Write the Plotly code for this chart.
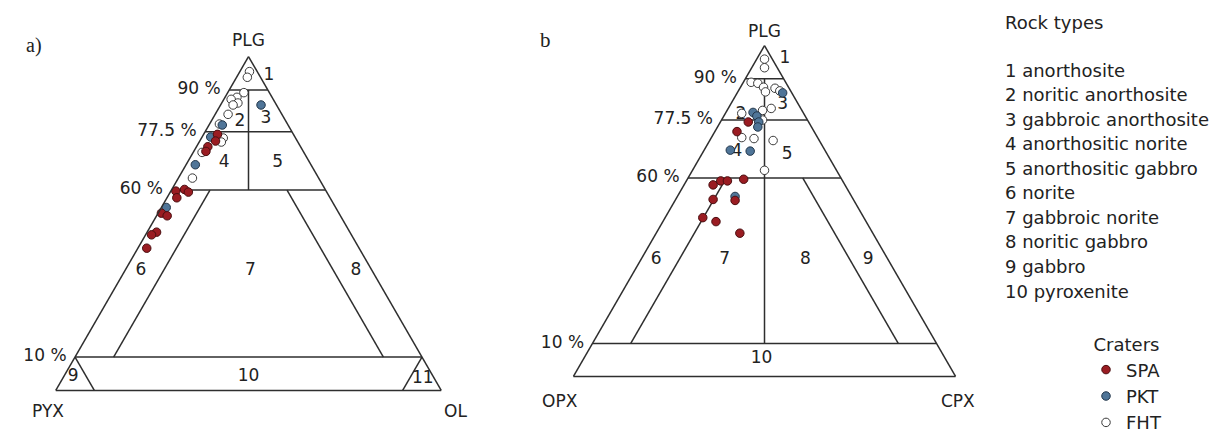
import plotly.graph_objects as go

# ---------------- data ----------------
# panel a : PLG - PYX - OL (percent)
spa_a_plg = [76.7, 74.7, 73.0, 71.6, 60.2, 59.7, 59.4, 57.7, 53.1, 52.3, 47.4, 46.6, 42.6]
spa_a_pyx = [19.7, 21.2, 24.05, 25.25, 36.5, 39.0, 35.9, 39.75, 46.05, 44.95, 50.15, 51.85, 55.1]
spa_a_ol = [3.6, 4.1, 2.95, 3.15, 3.3, 1.3, 4.7, 2.55, 0.85, 2.75, 2.45, 1.55, 2.3]

pkt_a_plg = [85.5, 79.5, 75.9, 67.6, 54.8]
pkt_a_pyx = [4.0, 17.05, 21.85, 30.0, 43.95]
pkt_a_ol = [10.5, 3.45, 2.25, 2.4, 1.25]

fht_a_plg = [95.5, 93.8, 89.2, 87.8, 87.2, 86.1, 85.5, 82.7, 79.8, 75.6, 74.4, 71.3, 63.6]
fht_a_pyx = [2.0, 3.4, 6.6, 9.1, 10.9, 9.7, 11.25, 13.95, 17.65, 18.75, 19.85, 26.4, 32.75]
fht_a_ol = [2.5, 2.8, 4.2, 3.1, 1.9, 4.2, 3.25, 3.35, 2.55, 5.65, 5.75, 2.3, 3.65]

# panel b : PLG - OPX - CPX (percent)
spa_b_plg = [76.9, 74.0, 57.9, 59.1, 59.1, 59.6, 53.5, 53.2, 48.0, 46.8, 43.3]
spa_b_opx = [15.8, 20.2, 34.5, 31.9, 30.15, 25.65, 36.7, 31.1, 42.15, 39.3, 34.8]
spa_b_cpx = [7.3, 5.8, 7.6, 9.0, 10.75, 14.75, 9.8, 15.7, 9.85, 13.9, 21.9]

pkt_b_plg = [85.7, 79.8, 78.7, 76.9, 75.4, 68.4, 68.1, 54.4]
pkt_b_opx = [2.4, 13.1, 12.65, 13.05, 14.05, 24.75, 19.7, 30.5]
pkt_b_cpx = [11.9, 7.1, 8.65, 10.05, 10.55, 6.85, 12.2, 15.1]

fht_b_plg = [95.9, 93.3, 88.9, 88.6, 87.4, 86.0, 87.1, 86.3, 79.5, 81.0, 80.4, 77.5, 72.2, 71.9, 71.3, 62.3]
fht_b_opx = [2.05, 3.35, 9.05, 7.45, 6.55, 6.75, 3.7, 2.85, 16.2, 7.75, 10.3, 11.75, 19.85, 16.8, 12.1, 18.85]
fht_b_cpx = [2.05, 3.35, 2.05, 3.95, 6.05, 7.25, 9.2, 10.85, 4.3, 11.25, 9.3, 10.75, 7.95, 11.3, 16.6, 18.85]

# classification boundaries
plg_levels = [90, 77.5, 60, 10]
plg_level_labels = ["90 %", "77.5 %", "60 %", "10 %"]
inner_cut = 10       # 10 % of the minor phase (inner lines)
corner_cut = 90      # small corner triangles of panel a

# region numbers (PLG, left, right)
reg_a_txt = ["2", "3", "4", "5", "6", "7", "8", "9", "10", "11"]
reg_a_plg = [80.4, 81.5, 68.2, 68.2, 35.8, 35.8, 35.8, 4.0, 4.0, 3.4]
reg_a_pyx = [12.05, 4.75, 22.2, 8.35, 60.0, 31.6, 4.2, 93.5, 48.0, 3.1]
reg_a_ol = [7.55, 13.75, 9.6, 23.45, 4.2, 32.6, 60.0, 2.5, 48.0, 93.5]

reg_b_txt = ["2", "3", "4", "5", "6", "7", "8", "9", "10"]
reg_b_plg = [79.2, 82.2, 67.8, 67.0, 35.4, 35.4, 35.4, 35.4, 5.3]
reg_b_opx = [16.6, 4.15, 23.3, 10.55, 60.65, 42.75, 21.6, 5.2, 48.1]
reg_b_cpx = [4.2, 13.65, 8.9, 22.45, 3.95, 21.85, 43.0, 59.4, 46.6]

# region 1 label sits just outside the right edge, next to the apex
reg1_plg = {"ternary": 94.3, "ternary2": 95.9}

rock_types = ["1 anorthosite", "2 noritic anorthosite", "3 gabbroic anorthosite",
              "4 anorthositic norite", "5 anorthositic gabbro", "6 norite",
              "7 gabbroic norite", "8 noritic gabbro", "9 gabbro", "10 pyroxenite"]

# ---------------- styles ----------------
FONT = "DejaVu Sans"
LINE = "#2e2e2e"
W, H = 1223, 441
styles = {
    "SPA": dict(color="#9a1c22", line=dict(color="#4a0e10", width=1)),
    "PKT": dict(color="#4f7598", line=dict(color="#22364a", width=1)),
    "FHT": dict(color="white", line=dict(color="#3a3a3a", width=1)),
}


def boundary(mid_to):
    a, b, c = [], [], []
    for lv in plg_levels:                       # horizontal lines
        a += [lv, lv, None]; b += [100 - lv, 0, None]; c += [0, 100 - lv, None]
    top, low = plg_levels[0], plg_levels[2]
    a += [top, mid_to, None]                    # central divider
    b += [(100 - top) / 2, (100 - mid_to) / 2, None]
    c += [(100 - top) / 2, (100 - mid_to) / 2, None]
    bot = plg_levels[3]
    a += [low, bot, None, low, bot, None]       # inner lines
    b += [100 - low - inner_cut, 100 - bot - inner_cut, None, inner_cut, inner_cut, None]
    c += [inner_cut, inner_cut, None, 100 - low - inner_cut, 100 - bot - inner_cut, None]
    return a, b, c


fig = go.Figure()
tfont = dict(family=FONT, size=17, color="#222")


def add_panel(sub, plg_pts, mid_to, corners, reg, gap1):
    a, b, c = boundary(mid_to)
    if corners:
        bot = plg_levels[3]
        a += [bot, 0, None, bot, 0, None]
        b += [corner_cut, corner_cut, None, 0, 100 - corner_cut, None]
        c += [0, 100 - corner_cut, None, corner_cut, corner_cut, None]
    fig.add_trace(go.Scatterternary(a=a, b=b, c=c, mode="lines", subplot=sub,
                                    line=dict(color=LINE, width=1.5),
                                    showlegend=False, hoverinfo="skip"))
    # percent labels on the left edge
    fig.add_trace(go.Scatterternary(
        a=plg_levels, b=[100 - v for v in plg_levels], c=[0] * len(plg_levels),
        mode="markers+text", text=plg_level_labels, textposition="middle left",
        marker=dict(size=12, opacity=0), textfont=tfont,
        subplot=sub, showlegend=False, hoverinfo="skip", cliponaxis=False))
    fig.add_trace(go.Scatterternary(
        a=reg[1], b=reg[2], c=reg[3], mode="text", text=reg[0],
        textposition="middle center", textfont=tfont,
        subplot=sub, showlegend=False, hoverinfo="skip", cliponaxis=False))
    p1 = reg1_plg[sub]
    fig.add_trace(go.Scatterternary(
        a=[p1], b=[0], c=[100 - p1], mode="markers+text", text=["1"],
        textposition="middle right", marker=dict(size=gap1, opacity=0), textfont=tfont,
        subplot=sub, showlegend=False, hoverinfo="skip", cliponaxis=False))
    for name, (pa, pb, pc) in plg_pts:
        fig.add_trace(go.Scatterternary(
            a=pa, b=pb, c=pc, mode="markers", name=name, subplot=sub,
            marker=dict(size=8.5, **styles[name]),
            showlegend=(sub == "ternary2"),
            legendrank={"SPA": 1, "PKT": 2, "FHT": 3}[name], cliponaxis=False))


add_panel("ternary",
          [("FHT", (fht_a_plg, fht_a_pyx, fht_a_ol)),
           ("PKT", (pkt_a_plg, pkt_a_pyx, pkt_a_ol)),
           ("SPA", (spa_a_plg, spa_a_pyx, spa_a_ol))],
          plg_levels[2], True, (reg_a_txt, reg_a_plg, reg_a_pyx, reg_a_ol), 5)
add_panel("ternary2",
          [("FHT", (fht_b_plg, fht_b_opx, fht_b_cpx)),
           ("PKT", (pkt_b_plg, pkt_b_opx, pkt_b_cpx)),
           ("SPA", (spa_b_plg, spa_b_opx, spa_b_cpx))],
          plg_levels[3], False, (reg_b_txt, reg_b_plg, reg_b_opx, reg_b_cpx), 10)

ax = dict(showline=True, linecolor=LINE, linewidth=1.5, showgrid=False,
          showticklabels=False, ticks="", title=dict(text=""))


def tern(xd, yd):
    return dict(sum=100, bgcolor="white", domain=dict(x=xd, y=yd),
                aaxis=ax, baxis=ax, caxis=ax)


# annotations: corner names, panel letters, rock type list
ann = []


def txt(s, x, y, size=17, family=FONT, xanchor="center"):
    ann.append(dict(text=s, x=x / W, y=1 - y / H, xref="paper", yref="paper",
                    showarrow=False, xanchor=xanchor, yanchor="middle",
                    font=dict(family=family, size=size, color="#222")))


txt("PLG", 248, 42)
txt("PYX", 48, 429)
txt("OL", 455, 428)
txt("PLG", 764, 32)
txt("OPX", 560, 418)
txt("CPX", 958, 418)
txt("a)", 34, 47, size=20, family="Liberation Serif")
txt("b", 545, 42, size=21, family="Liberation Serif")
txt("Rock types", 1003, 23, size=18, xanchor="left")
for i, s in enumerate(rock_types):
    txt(s, 1003, 73 + 25.6 * i, size=18, xanchor="left")

fig.update_layout(
    width=W, height=H, margin=dict(l=0, r=0, t=0, b=0),
    paper_bgcolor="white", plot_bgcolor="white",
    ternary=tern([47.6 / W, 449.4 / W], [1 - 407 / H, 1 - 59 / H]),
    ternary2=tern([565.3 / W, 963.7 / W], [1 - 392.5 / H, 1 - 47.5 / H]),
    annotations=ann,
    legend=dict(x=1086 / W, y=1 - 342 / H, xanchor="left", yanchor="top",
                title=dict(text="Craters", side="top center",
                           font=dict(family=FONT, size=18, color="#222")),
                font=dict(family=FONT, size=18, color="#222"),
                bgcolor="rgba(0,0,0,0)", itemwidth=30, tracegroupgap=0),
    hovermode=False,
)

fig.write_html("out.html", config={"displayModeBar": False},
               post_script="document.body.style.margin='0';document.body.style.overflow='hidden';")
